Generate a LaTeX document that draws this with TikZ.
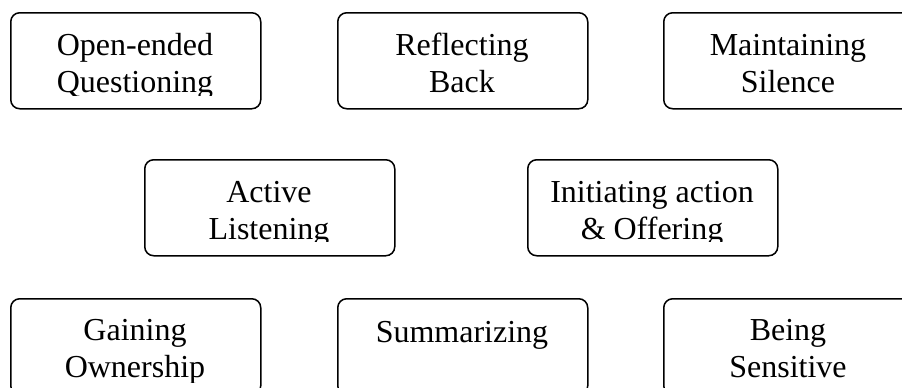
\documentclass[tikz,border=0pt]{standalone}
\usepackage{fontspec}
\setmainfont{Liberation Serif}

\tikzset{
    skill/.style={draw, line width=1.5pt, rounded corners=9pt,
        minimum width=250pt, minimum height=96pt, inner sep=0pt,
        anchor=north west},
    skilltext/.style={anchor=base, align=center, inner sep=0pt,
        font=\fontsize{32}{37}\selectfont},
}

\begin{document}
\begin{tikzpicture}[x=1pt, y=-1pt]
    \clip (0,0) rectangle (902,388);
    % boxes
    \node[skill] (open) at (10,12) {};
    \node[skill] (reflect) at (337,12) {};
    \node[skill] (silence) at (663,12) {};
    \node[skill] (listen) at (144,159) {};
    \node[skill] (offer) at (527,159) {};
    \node[skill] (owner) at (10,298) {};
    \node[skill] (summ) at (337,298) {};
    \node[skill] (sensitive) at (663,298) {};
    % labels, cut off at the bottom of each frame
    \begin{scope}
        \clip (0,0) rectangle (902,95);
        \node[skilltext] (opentext) at (135,92) {Open-ended\\Questioning};
        \node[skilltext] (reflecttext) at (462,92) {Reflecting\\Back};
        \node[skilltext] (silencetext) at (788,92) {Maintaining\\Silence};
    \end{scope}
    \begin{scope}
        \clip (0,150) rectangle (902,241);
        \node[skilltext] (listentext) at (269,239) {Active\\Listening};
        \node[skilltext] (offertext) at (652,239) {Initiating action\\\& Offering};
    \end{scope}
    \begin{scope}
        \clip (0,290) rectangle (902,382);
        \node[skilltext] (ownertext) at (135,377) {Gaining\\Ownership};
        \node[skilltext] (summtext) at (462,342) {Summarizing};
        \node[skilltext] (sensitivetext) at (788,377) {Being\\Sensitive};
    \end{scope}
\end{tikzpicture}
\end{document}
